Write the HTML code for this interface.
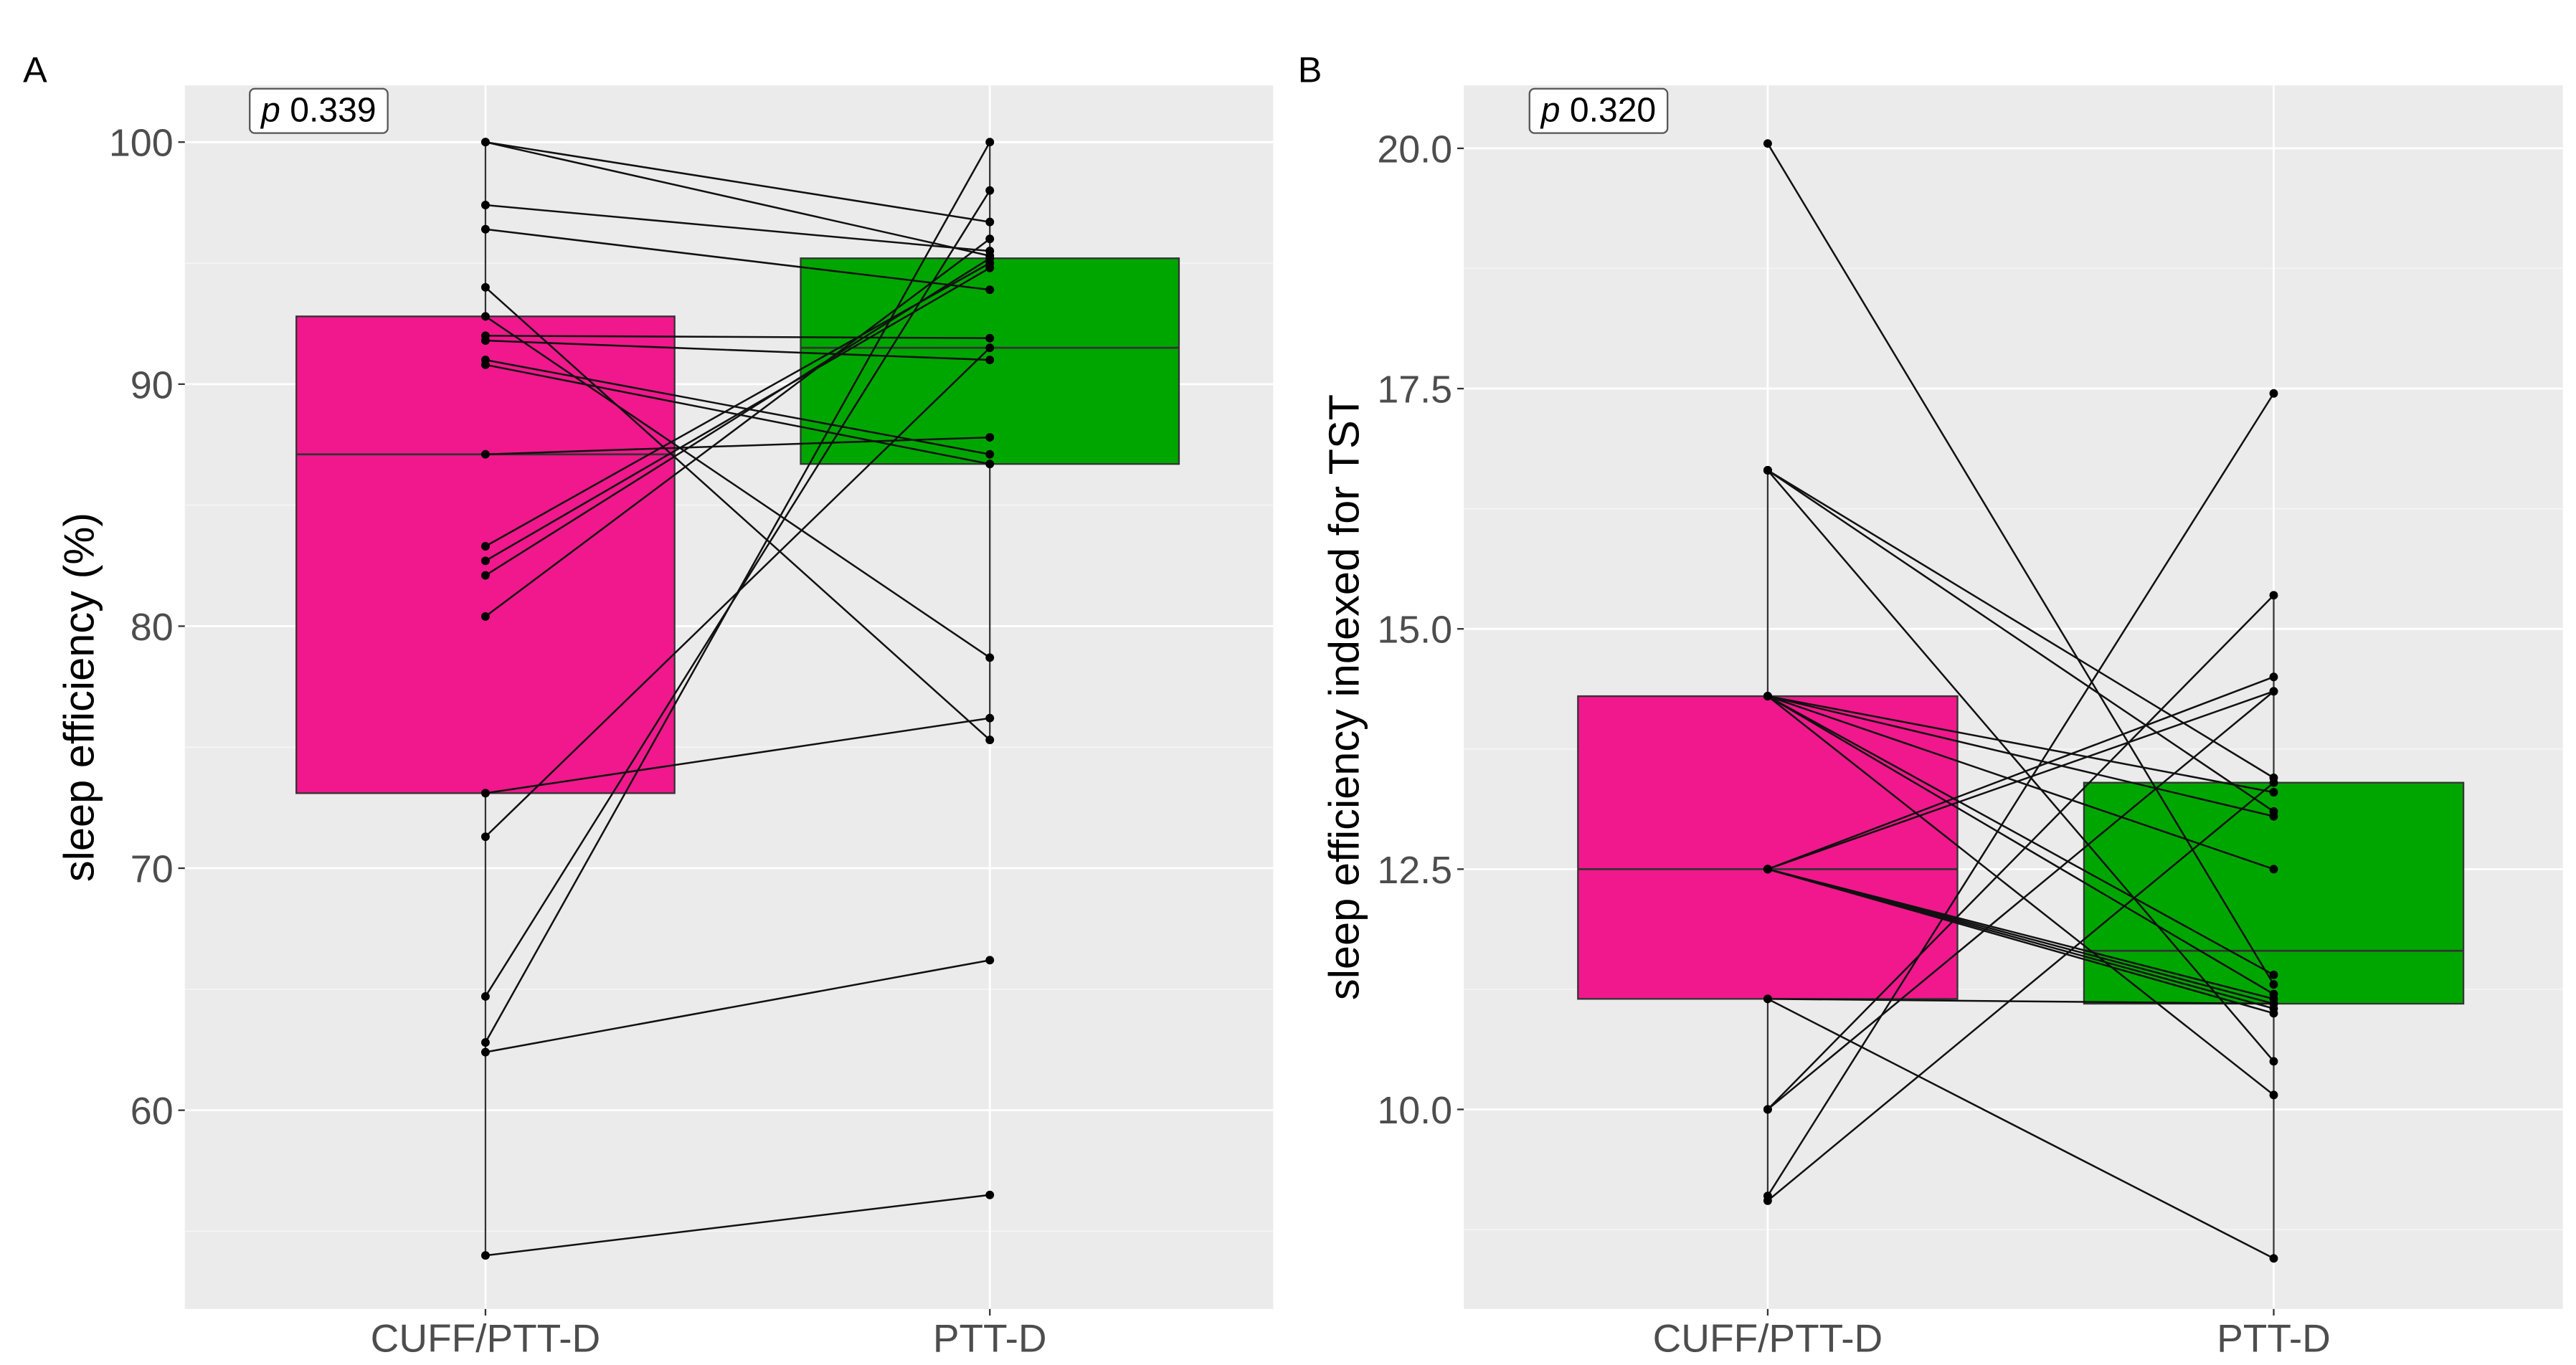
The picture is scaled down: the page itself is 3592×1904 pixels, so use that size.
<!DOCTYPE html>
<html><head><meta charset="utf-8"><style>
html,body{margin:0;padding:0;background:#fff}
svg{display:block;font-family:"Liberation Sans",sans-serif}
</style></head><body>
<svg id="chart" width="3592" height="1904" viewBox="0 0 1568 831.1" xmlns="http://www.w3.org/2000/svg"></svg>
<script>
const categories = ["CUFF/PTT-D","PTT-D"];
// Panel A
const aTicks = [60,70,80,90,100];
const aBoxCuff = [73.1, 87.1, 92.8, 54.0, 100];
const aBoxPtt = [86.7, 91.5, 95.2, 75.3, 100];
const aCuff = [100,100,97.4,96.4,94.0,92.8,92.0,91.8,91.0,90.8,87.1,83.3,82.7,82.1,80.4,73.1,71.3,64.7,62.8,62.4,54.0];
const aPtt  = [96.7,95.3,95.5,93.9,75.3,78.7,91.9,91.0,87.1,86.7,87.8,95.0,94.8,95.2,96.0,76.2,91.5,98.0,100,66.2,56.5];
// Panel B
const bTicks = [10.0,12.5,15.0,17.5,20.0];
const bBoxCuff = [11.15, 12.5, 14.3, 9.05, 16.65];
const bBoxPtt = [11.1, 11.65, 13.4, 8.45, 15.35];
const bCuff = [20.05,16.65,16.65,16.65,14.3,14.3,14.3,14.3,14.3,14.3,12.5,12.5,12.5,12.5,12.5,12.5,11.15,11.15,10.0,10.0,9.1,9.05];
const bPtt  = [11.3,13.45,13.1,10.5,13.3,13.05,12.5,11.4,11.2,10.15,14.5,14.35,11.15,11.1,11.05,11.0,8.45,11.1,15.35,14.35,17.45,13.4];

const NS="http://www.w3.org/2000/svg";
const svg=document.getElementById('chart');
function mk(tag,attrs,parent){const e=document.createElementNS(NS,tag);for(const k in attrs)e.setAttribute(k,attrs[k]);(parent||svg).appendChild(e);return e;}

function panel(o){
  const g=mk('g',{});
  
  
  const y=v=>o.y0+(v-o.v0)*(o.y1-o.y0)/(o.v1-o.v0);
  const cx=[o.c0,o.c1];
  const hw=(o.c1-o.c0)*0.375;
  const bg=mk('rect',{x:o.L,y:52,width:o.R-o.L,height:745,fill:'#ebebeb'},g);
  
  
  const step=o.ticks[1]-o.ticks[0];
  for(let t=o.ticks[0]-step/2;t<=o.ticks[o.ticks.length-1]+step/2+1e-9;t+=step){const yy=y(t);if(yy>52&&yy<797)mk('line',{x1:o.L,x2:o.R,y1:yy,y2:yy,stroke:'#f7f7f7','stroke-width':0.6},g);}
  o.ticks.forEach(t=>{
    mk('line',{x1:o.L,x2:o.R,y1:y(t),y2:y(t),stroke:'#fff','stroke-width':1.2},g);
    mk('line',{x1:o.L-4,x2:o.L,y1:y(t),y2:y(t),stroke:'#333','stroke-width':1},g);
    const tx=mk('text',{x:o.L-7,y:y(t)+8.5,'text-anchor':'end','font-size':23.5,fill:'#4d4d4d'},g);
    tx.textContent=o.fmt(t);
    
    
  });
  cx.forEach((c,i)=>{
    mk('line',{x1:c,x2:c,y1:52,y2:797,stroke:'#fff','stroke-width':1.2},g);
    mk('line',{x1:c,x2:c,y1:797,y2:801,stroke:'#333','stroke-width':1},g);
    const tx=mk('text',{x:c,y:823,'text-anchor':'middle','font-size':24,fill:'#4d4d4d'},g);
    tx.textContent=categories[i];
    
    
  });
  [o.boxCuff,o.boxPtt].forEach((b,i)=>{
    const c=cx[i];
    mk('line',{x1:c,x2:c,y1:y(b[3]),y2:y(b[4]),stroke:'#333','stroke-width':1},g);
    const r=mk('rect',{x:c-hw,y:y(b[2]),width:2*hw,height:y(b[0])-y(b[2]),fill:i?'#00a600':'#f0188c',stroke:'#333','stroke-width':1},g);
    
    
    mk('line',{x1:c-hw,x2:c+hw,y1:y(b[1]),y2:y(b[1]),stroke:'#333','stroke-width':1.2},g);
  });
  o.cuff.forEach((v,i)=>{
    const l=mk('line',{x1:cx[0],y1:y(v),x2:cx[1],y2:y(o.ptt[i]),stroke:'#111','stroke-width':1.1},g);
    
    
  });
  o.cuff.forEach((v,i)=>{
    const p1=mk('circle',{cx:cx[0],cy:y(v),r:2.6,fill:'#000'},g);
    
    
    const p2=mk('circle',{cx:cx[1],cy:y(o.ptt[i]),r:2.6,fill:'#000'},g);
    
    
  });
  const pl=mk('rect',{x:o.pX,y:54,width:84,height:27,rx:3,fill:'#fff',stroke:'#555','stroke-width':1},g);
  
  
  const pt=mk('text',{x:o.pX+42,y:74,'text-anchor':'middle','font-size':21,fill:'#000'},g);
  pt.innerHTML='<tspan font-style="italic">p</tspan> '+o.p;
  
  
  const yt=mk('text',{x:0,y:0,'text-anchor':'middle','font-size':26,fill:'#000',transform:`translate(${o.titleX},${(52+797)/2}) rotate(-90)`},g);
  yt.textContent=o.title;
  
  
  const lt=mk('text',{x:o.letterX,y:50,'font-size':22,fill:'#000'},g);
  lt.textContent=o.letter;
  
  
}
panel({name:'panel-a',L:112.5,R:775,c0:295.5,c1:602.5,v0:100,y0:86.5,v1:60,y1:676,ticks:aTicks,fmt:t=>String(t),
  boxCuff:aBoxCuff,boxPtt:aBoxPtt,cuff:aCuff,ptt:aPtt,pX:152,p:'0.339',title:'sleep efficiency (%)',titleX:57,letter:'A',letterX:14});
panel({name:'panel-b',L:891,R:1560,c0:1076,c1:1384,v0:20,y0:90.3,v1:10,y1:675.5,ticks:bTicks,fmt:t=>t.toFixed(1),
  boxCuff:bBoxCuff,boxPtt:bBoxPtt,cuff:bCuff,ptt:bPtt,pX:931,p:'0.320',title:'sleep efficiency indexed for TST',titleX:827,letter:'B',letterX:790});
</script>
</body></html>
